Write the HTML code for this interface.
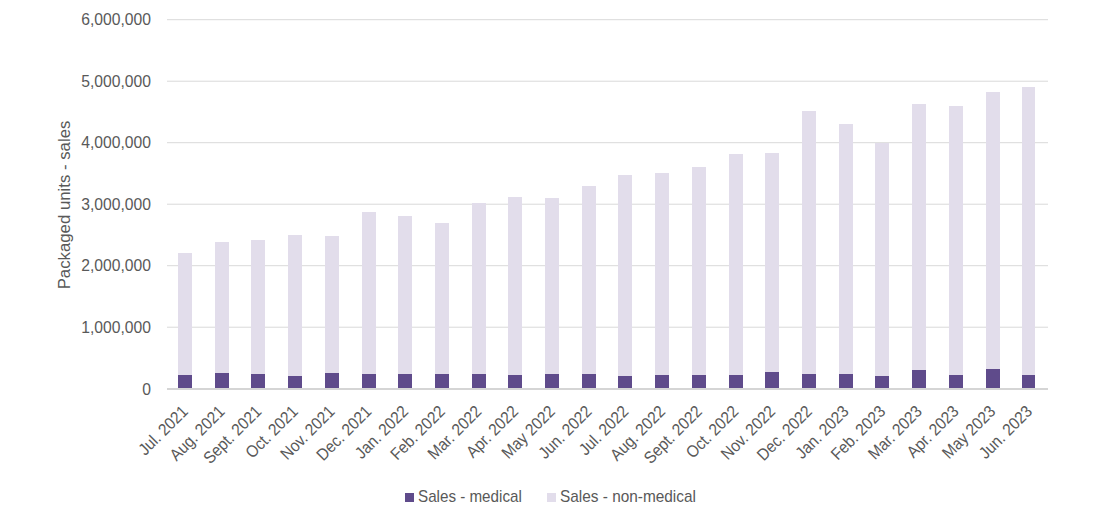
<!DOCTYPE html><html><head><meta charset="utf-8"><style>html,body{margin:0;padding:0;background:#fff;}svg{display:block;}text{font-family:"Liberation Sans",sans-serif;fill:#595959;}</style></head><body>
<svg width="1100" height="517" viewBox="0 0 1100 517">
<rect x="0" y="0" width="1100" height="517" fill="#fff"/>
<rect x="167" y="326.70" width="881" height="1" fill="#D9D9D9"/>
<rect x="167" y="265.20" width="881" height="1" fill="#D9D9D9"/>
<rect x="167" y="203.70" width="881" height="1" fill="#D9D9D9"/>
<rect x="167" y="142.20" width="881" height="1" fill="#D9D9D9"/>
<rect x="167" y="80.70" width="881" height="1" fill="#D9D9D9"/>
<rect x="167" y="19.20" width="881" height="1" fill="#D9D9D9"/>
<text x="0" y="0" font-size="16" text-anchor="end" transform="translate(151,394.5) scale(0.98,1)">0</text>
<text x="0" y="0" font-size="16" text-anchor="end" transform="translate(151,332.9) scale(0.98,1)">1,000,000</text>
<text x="0" y="0" font-size="16" text-anchor="end" transform="translate(151,271.4) scale(0.98,1)">2,000,000</text>
<text x="0" y="0" font-size="16" text-anchor="end" transform="translate(151,209.8) scale(0.98,1)">3,000,000</text>
<text x="0" y="0" font-size="16" text-anchor="end" transform="translate(151,148.2) scale(0.98,1)">4,000,000</text>
<text x="0" y="0" font-size="16" text-anchor="end" transform="translate(151,86.7) scale(0.98,1)">5,000,000</text>
<text x="0" y="0" font-size="16" text-anchor="end" transform="translate(151,25.1) scale(0.98,1)">6,000,000</text>
<rect x="178" y="253" width="14" height="122" fill="#E2DDEB"/>
<rect x="178" y="375" width="14" height="13" fill="#5F4B8B"/>
<rect x="215" y="242" width="14" height="131" fill="#E2DDEB"/>
<rect x="215" y="373" width="14" height="15" fill="#5F4B8B"/>
<rect x="251" y="240" width="14" height="134" fill="#E2DDEB"/>
<rect x="251" y="374" width="14" height="14" fill="#5F4B8B"/>
<rect x="288" y="235" width="14" height="141" fill="#E2DDEB"/>
<rect x="288" y="376" width="14" height="12" fill="#5F4B8B"/>
<rect x="325" y="236" width="14" height="137" fill="#E2DDEB"/>
<rect x="325" y="373" width="14" height="15" fill="#5F4B8B"/>
<rect x="362" y="212" width="14" height="162" fill="#E2DDEB"/>
<rect x="362" y="374" width="14" height="14" fill="#5F4B8B"/>
<rect x="398" y="216" width="14" height="158" fill="#E2DDEB"/>
<rect x="398" y="374" width="14" height="14" fill="#5F4B8B"/>
<rect x="435" y="223" width="14" height="151" fill="#E2DDEB"/>
<rect x="435" y="374" width="14" height="14" fill="#5F4B8B"/>
<rect x="472" y="203" width="14" height="171" fill="#E2DDEB"/>
<rect x="472" y="374" width="14" height="14" fill="#5F4B8B"/>
<rect x="508" y="197" width="14" height="178" fill="#E2DDEB"/>
<rect x="508" y="375" width="14" height="13" fill="#5F4B8B"/>
<rect x="545" y="198" width="14" height="176" fill="#E2DDEB"/>
<rect x="545" y="374" width="14" height="14" fill="#5F4B8B"/>
<rect x="582" y="186" width="14" height="188" fill="#E2DDEB"/>
<rect x="582" y="374" width="14" height="14" fill="#5F4B8B"/>
<rect x="618" y="175" width="14" height="201" fill="#E2DDEB"/>
<rect x="618" y="376" width="14" height="12" fill="#5F4B8B"/>
<rect x="655" y="173" width="14" height="202" fill="#E2DDEB"/>
<rect x="655" y="375" width="14" height="13" fill="#5F4B8B"/>
<rect x="692" y="167" width="14" height="208" fill="#E2DDEB"/>
<rect x="692" y="375" width="14" height="13" fill="#5F4B8B"/>
<rect x="729" y="154" width="14" height="221" fill="#E2DDEB"/>
<rect x="729" y="375" width="14" height="13" fill="#5F4B8B"/>
<rect x="765" y="153" width="14" height="219" fill="#E2DDEB"/>
<rect x="765" y="372" width="14" height="16" fill="#5F4B8B"/>
<rect x="802" y="111" width="14" height="263" fill="#E2DDEB"/>
<rect x="802" y="374" width="14" height="14" fill="#5F4B8B"/>
<rect x="839" y="124" width="14" height="250" fill="#E2DDEB"/>
<rect x="839" y="374" width="14" height="14" fill="#5F4B8B"/>
<rect x="875" y="143" width="14" height="233" fill="#E2DDEB"/>
<rect x="875" y="376" width="14" height="12" fill="#5F4B8B"/>
<rect x="912" y="104" width="14" height="266" fill="#E2DDEB"/>
<rect x="912" y="370" width="14" height="18" fill="#5F4B8B"/>
<rect x="949" y="106" width="14" height="269" fill="#E2DDEB"/>
<rect x="949" y="375" width="14" height="13" fill="#5F4B8B"/>
<rect x="986" y="92" width="14" height="277" fill="#E2DDEB"/>
<rect x="986" y="369" width="14" height="19" fill="#5F4B8B"/>
<rect x="1022" y="87" width="13" height="288" fill="#E2DDEB"/>
<rect x="1022" y="375" width="13" height="13" fill="#5F4B8B"/>
<rect x="167" y="388" width="881" height="2" fill="#D5D5D5"/>
<text x="0" y="0" font-size="16.8" text-anchor="end" transform="translate(189.0,412.4) rotate(-45) scale(0.91,1)">Jul. 2021</text>
<text x="0" y="0" font-size="16.8" text-anchor="end" transform="translate(225.7,412.4) rotate(-45) scale(0.91,1)">Aug. 2021</text>
<text x="0" y="0" font-size="16.8" text-anchor="end" transform="translate(262.4,412.4) rotate(-45) scale(0.91,1)">Sept. 2021</text>
<text x="0" y="0" font-size="16.8" text-anchor="end" transform="translate(299.1,412.4) rotate(-45) scale(0.91,1)">Oct. 2021</text>
<text x="0" y="0" font-size="16.8" text-anchor="end" transform="translate(335.8,412.4) rotate(-45) scale(0.91,1)">Nov. 2021</text>
<text x="0" y="0" font-size="16.8" text-anchor="end" transform="translate(372.5,412.4) rotate(-45) scale(0.91,1)">Dec. 2021</text>
<text x="0" y="0" font-size="16.8" text-anchor="end" transform="translate(409.2,412.4) rotate(-45) scale(0.91,1)">Jan. 2022</text>
<text x="0" y="0" font-size="16.8" text-anchor="end" transform="translate(445.9,412.4) rotate(-45) scale(0.91,1)">Feb. 2022</text>
<text x="0" y="0" font-size="16.8" text-anchor="end" transform="translate(482.6,412.4) rotate(-45) scale(0.91,1)">Mar. 2022</text>
<text x="0" y="0" font-size="16.8" text-anchor="end" transform="translate(519.3,412.4) rotate(-45) scale(0.91,1)">Apr. 2022</text>
<text x="0" y="0" font-size="16.8" text-anchor="end" transform="translate(556.0,412.4) rotate(-45) scale(0.91,1)">May 2022</text>
<text x="0" y="0" font-size="16.8" text-anchor="end" transform="translate(592.7,412.4) rotate(-45) scale(0.91,1)">Jun. 2022</text>
<text x="0" y="0" font-size="16.8" text-anchor="end" transform="translate(629.5,412.4) rotate(-45) scale(0.91,1)">Jul. 2022</text>
<text x="0" y="0" font-size="16.8" text-anchor="end" transform="translate(666.2,412.4) rotate(-45) scale(0.91,1)">Aug. 2022</text>
<text x="0" y="0" font-size="16.8" text-anchor="end" transform="translate(702.9,412.4) rotate(-45) scale(0.91,1)">Sept. 2022</text>
<text x="0" y="0" font-size="16.8" text-anchor="end" transform="translate(739.6,412.4) rotate(-45) scale(0.91,1)">Oct. 2022</text>
<text x="0" y="0" font-size="16.8" text-anchor="end" transform="translate(776.3,412.4) rotate(-45) scale(0.91,1)">Nov. 2022</text>
<text x="0" y="0" font-size="16.8" text-anchor="end" transform="translate(813.0,412.4) rotate(-45) scale(0.91,1)">Dec. 2022</text>
<text x="0" y="0" font-size="16.8" text-anchor="end" transform="translate(849.7,412.4) rotate(-45) scale(0.91,1)">Jan. 2023</text>
<text x="0" y="0" font-size="16.8" text-anchor="end" transform="translate(886.4,412.4) rotate(-45) scale(0.91,1)">Feb. 2023</text>
<text x="0" y="0" font-size="16.8" text-anchor="end" transform="translate(923.1,412.4) rotate(-45) scale(0.91,1)">Mar. 2023</text>
<text x="0" y="0" font-size="16.8" text-anchor="end" transform="translate(959.8,412.4) rotate(-45) scale(0.91,1)">Apr. 2023</text>
<text x="0" y="0" font-size="16.8" text-anchor="end" transform="translate(996.5,412.4) rotate(-45) scale(0.91,1)">May 2023</text>
<text x="0" y="0" font-size="16.8" text-anchor="end" transform="translate(1033.2,412.4) rotate(-45) scale(0.91,1)">Jun. 2023</text>
<text x="0" y="0" font-size="17.3" text-anchor="middle" transform="translate(70.3,205) rotate(-90) scale(0.97,1)">Packaged units - sales</text>
<rect x="405" y="493" width="9" height="9" fill="#5F4B8B"/>
<text x="0" y="0" font-size="17" transform="translate(418,501.8) scale(0.894,1)">Sales - medical</text>
<rect x="547" y="493" width="9" height="9" fill="#E2DDEB"/>
<text x="0" y="0" font-size="17" transform="translate(560,501.8) scale(0.905,1)">Sales - non-medical</text>
</svg></body></html>
